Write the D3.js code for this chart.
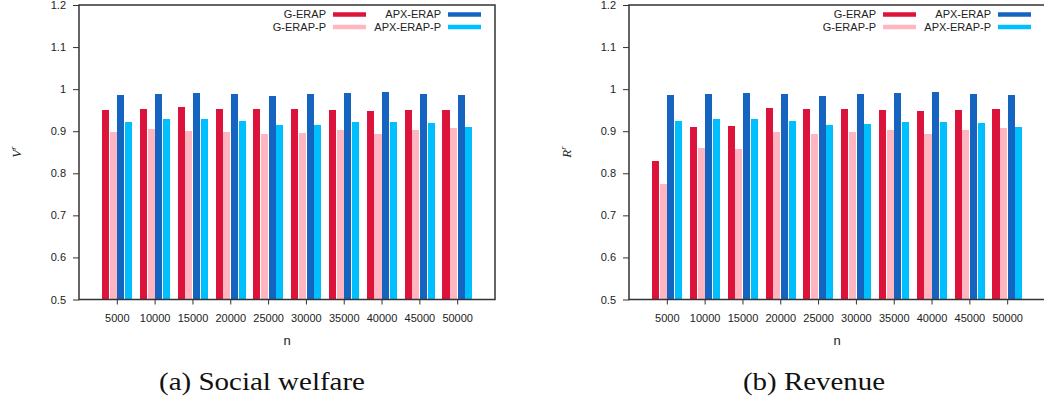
<!DOCTYPE html>
<html>
<head>
<meta charset="utf-8">
<title>Social welfare and revenue ratios</title>
<style>
  body { margin: 0; background: #fff; }
  svg { display: block; }
  .axis text { font: 11px "Liberation Sans", Arial, sans-serif; fill: #222; }
  .axis line { stroke: #333; }
  .frame { fill: none; stroke: #333; stroke-width: 1.5px; }
  .legend text { font: 11px "Liberation Sans", Arial, sans-serif; fill: #222; }
  .caption { font: 25px "Liberation Serif", "Times New Roman", serif; fill: #111; }
</style>
</head>
<body>
<svg width="1044" height="402"></svg>
<script src="https://d3js.org/d3.v7.min.js"></script>
<script>
// data
var categories = [5000, 10000, 15000, 20000, 25000, 30000, 35000, 40000, 45000, 50000];
var seriesNames = ["G-ERAP", "G-ERAP-P", "APX-ERAP", "APX-ERAP-P"];
var seriesColors = ["#dc143c", "#ffb6c1", "#1565c0", "#00bfff"];
var yTicks = [0.5, 0.6, 0.7, 0.8, 0.9, 1, 1.1, 1.2];

// (a) social welfare
var welfareGERAP    = [0.950, 0.953, 0.958, 0.953, 0.953, 0.953, 0.950, 0.948, 0.950, 0.950];
var welfareGERAPP   = [0.898, 0.905, 0.900, 0.898, 0.893, 0.896, 0.903, 0.893, 0.903, 0.908];
var welfareAPXERAP  = [0.986, 0.988, 0.991, 0.988, 0.984, 0.988, 0.991, 0.993, 0.988, 0.986];
var welfareAPXERAPP = [0.922, 0.929, 0.929, 0.924, 0.915, 0.915, 0.922, 0.922, 0.920, 0.910];

// (b) revenue
var revenueGERAP    = [0.829, 0.910, 0.912, 0.955, 0.953, 0.953, 0.950, 0.948, 0.950, 0.953];
var revenueGERAPP   = [0.774, 0.860, 0.858, 0.898, 0.893, 0.898, 0.903, 0.893, 0.903, 0.908];
var revenueAPXERAP  = [0.986, 0.988, 0.991, 0.988, 0.984, 0.988, 0.991, 0.993, 0.988, 0.986];
var revenueAPXERAPP = [0.924, 0.929, 0.929, 0.924, 0.915, 0.917, 0.922, 0.922, 0.920, 0.910];

var svg = d3.select("svg");

function drawPanel(left, series, yName, caption, captionX, captionW) {
  var right = left + 416, top = 5, bottom = 299.5;
  var g = svg.append("g");

  var x = d3.scaleLinear().domain([-1, 10]).range([left, right]);
  var y = d3.scaleLinear().domain([0.5, 1.2]).range([bottom, top]);
  var x1 = d3.scaleBand().domain(seriesNames).range([-14.7, 15.3]).paddingInner(0.08);
  var color = d3.scaleOrdinal().domain(seriesNames).range(seriesColors);

  // bars
  seriesNames.forEach(function(name, s) {
    g.append("g")
      .attr("fill", color(name))
      .attr("shape-rendering", "crispEdges")
      .selectAll("rect")
      .data(series[s])
      .enter().append("rect")
        .attr("x", function(d, i) { return x(i) + x1(name); })
        .attr("y", function(d) { return y(d); })
        .attr("width", x1.bandwidth())
        .attr("height", function(d) { return y(0.5) - y(d); });
  });

  // axes
  g.append("g")
    .attr("class", "axis")
    .attr("transform", "translate(" + left + ",0)")
    .call(d3.axisLeft(y).tickValues(yTicks).tickSize(6).tickPadding(7)
      .tickFormat(function(d) { return d3.format("")(+d.toFixed(1)); }))
    .call(function(a) { a.select(".domain").remove(); });

  g.append("g")
    .attr("class", "axis")
    .attr("transform", "translate(0," + bottom + ")")
    .call(d3.axisBottom(x).tickValues(d3.range(categories.length)).tickSize(5).tickPadding(10)
      .tickFormat(function(i) { return categories[i]; }))
    .call(function(a) { a.select(".domain").remove(); });

  g.append("rect")
    .attr("class", "frame")
    .attr("x", left).attr("y", top)
    .attr("width", right - left).attr("height", bottom - top);

  // axis titles
  g.append("text")
    .attr("x", (left + right) / 2)
    .attr("y", 345)
    .attr("text-anchor", "middle")
    .style("font", "13px 'Liberation Sans', Arial, sans-serif")
    .attr("fill", "#222")
    .text("n");

  var yl = g.append("text")
    .attr("transform", "translate(" + (left - 58) + "," + ((top + bottom) / 2) + ") rotate(-90)")
    .attr("text-anchor", "middle")
    .style("font", "italic 13px 'Liberation Serif', 'Times New Roman', serif")
    .attr("fill", "#222");
  yl.append("tspan").text(yName);
  yl.append("tspan").attr("dy", -5).style("font-size", "8px").text("r");

  // legend
  var legend = g.append("g").attr("class", "legend")
    .selectAll("g")
    .data(seriesNames)
    .enter().append("g")
      .attr("transform", function(d, i) {
        var col = i < 2 ? 0 : 1, row = i % 2;
        return "translate(" + (left + 254 + col * 115) + "," + (14.5 + row * 12.5) + ")";
      });

  legend.append("line")
    .attr("x1", 0).attr("x2", 33)
    .attr("stroke", function(d) { return color(d); })
    .attr("stroke-width", 4.5);

  legend.append("text")
    .attr("x", -7)
    .attr("dy", "0.35em")
    .attr("text-anchor", "end")
    .text(function(d) { return d; });

  svg.append("text")
    .attr("class", "caption")
    .attr("x", captionX)
    .attr("y", 390)
    .attr("textLength", captionW)
    .attr("lengthAdjust", "spacingAndGlyphs")
    .text(caption);
}

drawPanel(79, [welfareGERAP, welfareGERAPP, welfareAPXERAP, welfareAPXERAPP], "V", "(a) Social welfare", 159, 206);
drawPanel(629, [revenueGERAP, revenueGERAPP, revenueAPXERAP, revenueAPXERAPP], "R", "(b) Revenue", 743, 142);
</script>
</body>
</html>
